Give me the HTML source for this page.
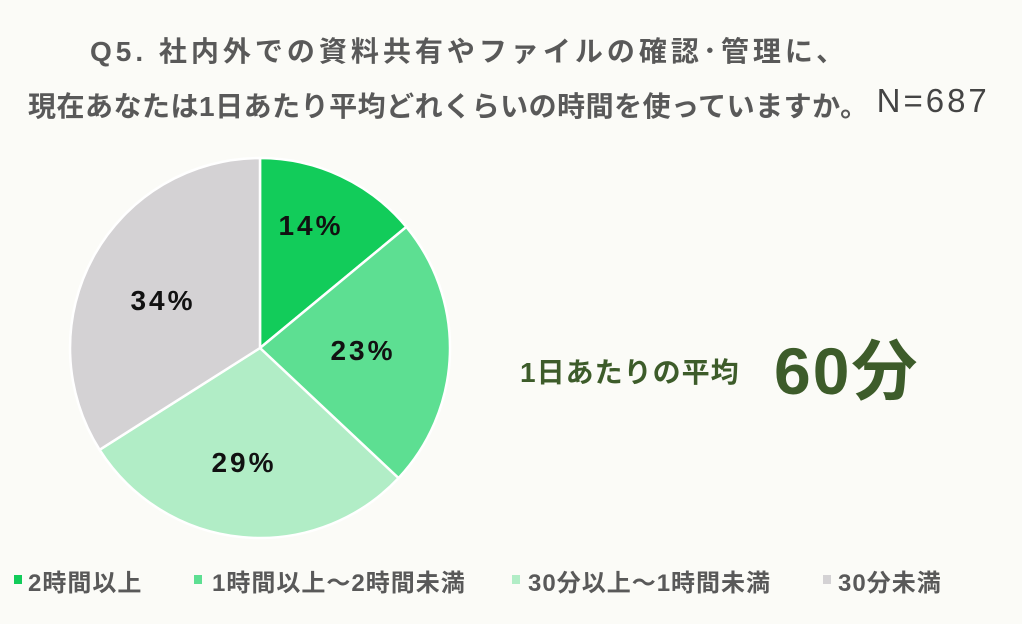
<!DOCTYPE html>
<html><head><meta charset="utf-8"><style>
body{margin:0;width:1022px;height:624px;background:#fbfbf7;overflow:hidden;font-family:"Liberation Sans","Noto Sans CJK JP",sans-serif;}
.t{position:absolute;color:#595959;font-weight:bold;white-space:nowrap}
.lg{font-size:24px;letter-spacing:1px;top:563px}
</style></head><body>
<div class="t" style="left:90px;top:30px;font-size:28px;letter-spacing:4px;">Q5.&nbsp;社内外での資料共有やファイルの確認･管理に、</div>
<div class="t" style="left:28px;top:85px;font-size:28px;letter-spacing:0.5px;">現在あなたは1日あたり平均どれくらいの時間を使っていますか。<span style="font-weight:normal;font-size:33px;letter-spacing:3px;color:#444;position:relative;top:-4px;margin-left:8px">N=687</span></div>
<svg style="position:absolute;left:0;top:0" width="1022" height="624">
<g stroke="#fff" stroke-width="2.5">
<path d="M260,348 L260,158 A190,190 0 0 1 406.4,226.9 Z" fill="#12cc5a"/>
<path d="M260,348 L406.4,226.9 A190,190 0 0 1 398.5,478.1 Z" fill="#5ddf92"/>
<path d="M260,348 L398.5,478.1 A190,190 0 0 1 99.6,449.8 Z" fill="#b1edc6"/>
<path d="M260,348 L99.6,449.8 A190,190 0 0 1 260,158 Z" fill="#d4d2d4"/>
</g>
<g font-family="Liberation Sans, sans-serif" font-weight="bold" font-size="28" letter-spacing="3" fill="#111" text-anchor="middle">
<text x="311" y="235">14%</text>
<text x="363" y="360">23%</text>
<text x="244" y="472">29%</text>
<text x="163" y="310">34%</text>
</g>
<rect x="14" y="575" width="8" height="9" fill="#12cc5a"/>
<rect x="194" y="575" width="8" height="9" fill="#5ddf92"/>
<rect x="512" y="575" width="8" height="9" fill="#b1edc6"/>
<rect x="823" y="575" width="8" height="9" fill="#d4d2d4"/>
</svg>
<div class="t" style="left:520px;top:351px;font-size:28px;letter-spacing:1px;color:#3d5c2a;">1日あたりの平均</div>
<div class="t" style="left:774px;top:318px;font-size:66px;letter-spacing:2px;color:#3d5c2a;">60分</div>
<div class="t lg" style="left:28px;">2時間以上</div>
<div class="t lg" style="left:212px;">1時間以上～2時間未満</div>
<div class="t lg" style="left:528px;">30分以上～1時間未満</div>
<div class="t lg" style="left:838px;">30分未満</div>
</body></html>
